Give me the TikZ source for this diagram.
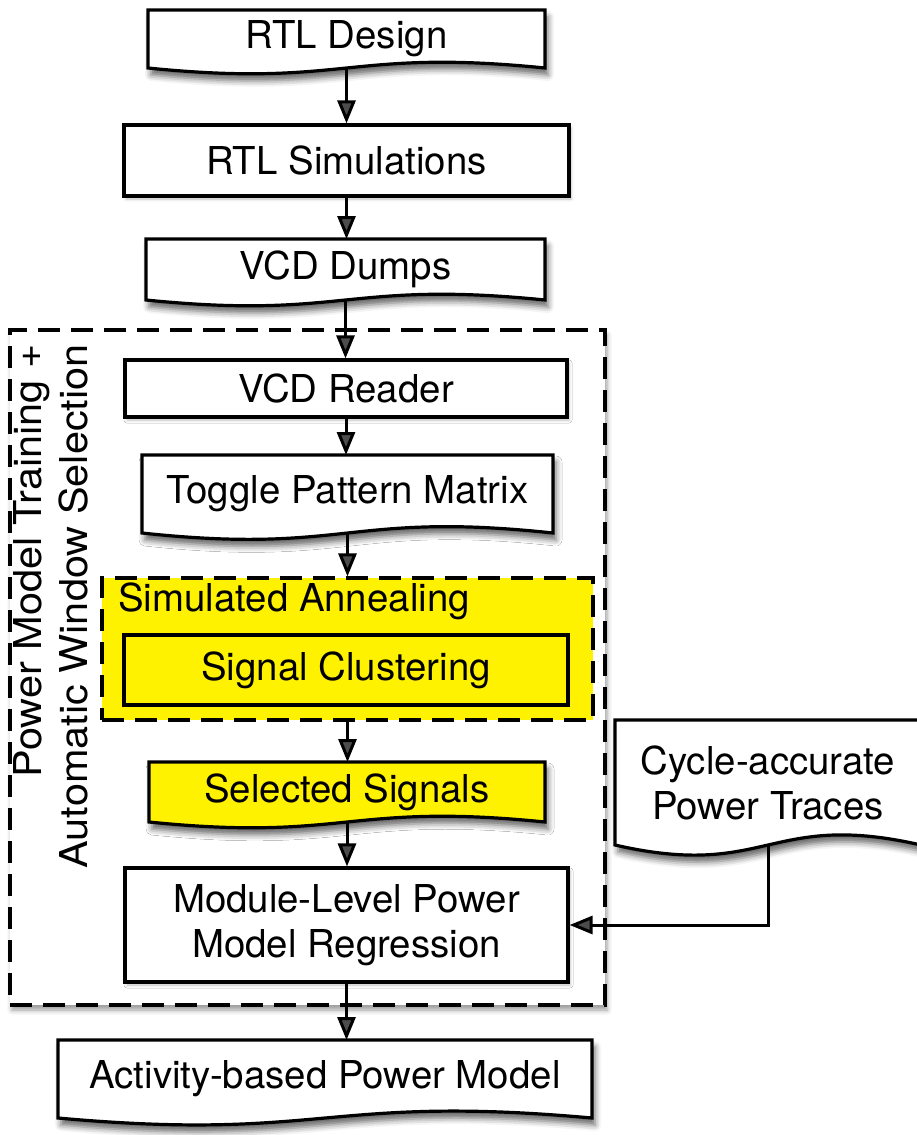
\documentclass[tikz,border=0pt]{standalone}
\usepackage{fontspec}
\setmainfont{TeX Gyre Heros}
\newfontfamily\stretchedfont[FakeStretch=1.08]{TeX Gyre Heros}
\usetikzlibrary{arrows.meta,calc,shadows.blur}
\tikzset{
  every node/.style={font=\fontsize{38.4}{45}\selectfont, inner sep=0pt},
  procbox/.style={draw, line width=3.2pt, fill=white, rectangle, align=center,
    blur shadow={shadow xshift=2pt, shadow yshift=-3pt, shadow opacity=25, shadow blur radius=3pt}},
  doctext/.style={rectangle, align=center, outer sep=0pt},
  docline/.style={draw, line width=3.2pt,
    blur shadow={shadow xshift=3pt, shadow yshift=-7pt, shadow opacity=60, shadow blur radius=6pt}},
  conn/.style={line width=3pt, -{Triangle[length=23pt,width=18pt]}},
  groupbox/.style={draw, line width=3.2pt, dash pattern=on 22pt off 11pt, rectangle},
  yel/.style={fill=yellow},
}
% #1 name, #2 cx, #3 cy, #4 width, #5 height, #6 wave control offset, #7 fill, #8 text
\newcommand{\docshape}[8]{%
  \node[doctext, minimum width=#4pt, minimum height=#5pt] (#1) at (#2,#3) {};
  \path[docline, fill=#7] (#1.north west) -- (#1.north east) -- (#1.south east)
    .. controls ($(#1.south)+(0,-#6)$) and ($(#1.south)+(0,#6)$) .. (#1.south west) -- cycle;
  \node[align=center] (#1-txt) at (#1.center) {#8};
}
\begin{document}
\begin{tikzpicture}[x=1pt,y=-1pt]
\useasboundingbox (0,0) rectangle (917,1135);

% group boxes
\node[groupbox, fill=white, minimum width=595pt, minimum height=675pt,
  blur shadow={shadow xshift=2pt, shadow yshift=-5pt, shadow opacity=40, shadow blur radius=5pt}]
  (train) at (307.5,667.5) {};
\node[groupbox, yel, minimum width=491pt, minimum height=142pt] (sa) at (347.5,649) {};

\node[rotate=90, anchor=east, align=right, font=\stretchedfont\fontsize{38.4}{46}\selectfont] (lbl) at (51,344)
  {Power Model Training +\\Automatic Window Selection};
\node[anchor=west] (satext) at (118,601) {Simulated Annealing};

% document shapes
\docshape{rtl}{346.5}{39}{397}{58}{20}{white}{RTL Design}
\docshape{vcd}{345.5}{269.5}{399}{61}{20}{white}{VCD Dumps}
\docshape{toggle}{347.5}{494}{411}{78}{22}{white}{Toggle Pattern Matrix}
\docshape{sel}{347}{792}{396}{60}{20}{yellow}{Selected Signals}
\docshape{act}{325}{1079}{534}{78}{24}{white}{Activity-based Power Model}
\docshape{cyc}{768}{782.5}{306}{125}{35}{white}{Cycle-accurate\\Power Traces}

% process boxes
\node[procbox, minimum width=445pt, minimum height=71pt] (sim) at (346.5,160.5) {RTL Simulations};
\node[procbox, minimum width=442pt, minimum height=57pt] (reader) at (346,388.5) {VCD Reader};
\node[draw, line width=3.2pt, yel, align=center, minimum width=444pt, minimum height=70pt] (cluster) at (346,670) {Signal Clustering};
\node[procbox, minimum width=443pt, minimum height=114pt] (module) at (346.5,925) {Module-Level Power\\Model Regression};

% connectors
\draw[conn] (rtl.south) -- (rtl.south |- sim.north);
\draw[conn] (sim.south) -- (sim.south |- vcd.north);
\draw[conn] (vcd.south) -- (vcd.south |- reader.north);
\draw[conn] (reader.south) -- (reader.south |- toggle.north);
\draw[conn] (toggle.south) -- (toggle.south |- sa.north);
\draw[conn] (sa.south) -- (sa.south |- sel.north);
\draw[conn] (sel.south) -- (sel.south |- module.north);
\draw[conn] (module.south) -- (module.south |- act.north);
\draw[conn] (cyc.south) |- (module.east);
\end{tikzpicture}
\end{document}
